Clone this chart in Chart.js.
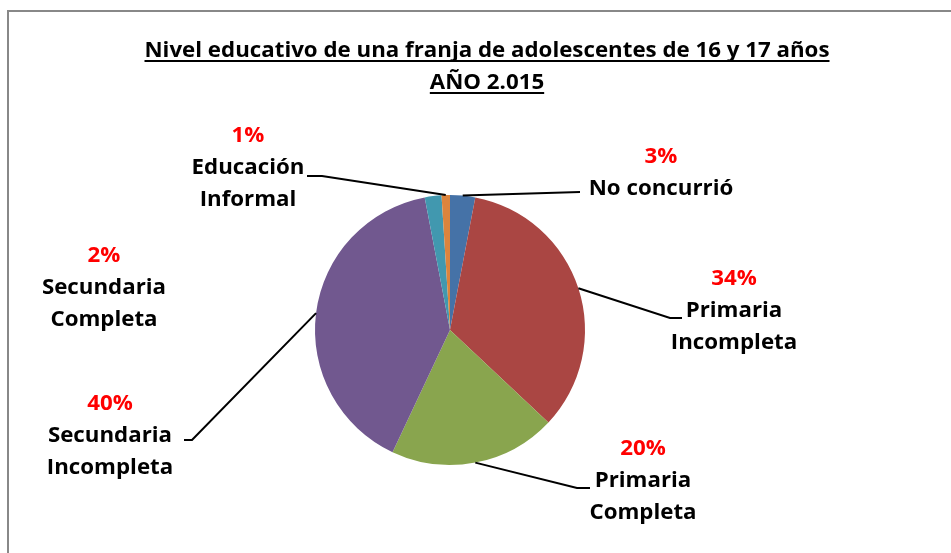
<!DOCTYPE html>
<html>
<head>
<meta charset="utf-8">
<script src="https://cdn.jsdelivr.net/npm/chart.js@4"></script>
<style>
  body { margin: 0; background: #fff; }
  canvas { display: block; }
</style>
</head>
<body>
<canvas id="grafico" width="951" height="553"></canvas>
<script>
const titulo = ['Nivel educativo de una franja de adolescentes de 16 y 17 años', 'AÑO 2.015'];
const categorias = [
  ['No concurrió'],
  ['Primaria', 'Incompleta'],
  ['Primaria', 'Completa'],
  ['Secundaria', 'Incompleta'],
  ['Secundaria', 'Completa'],
  ['Educación', 'Informal']
];
const porcentajes = [3, 34, 20, 40, 2, 1];
const colores = ['#4572A7', '#AA4643', '#89A54E', '#71588F', '#4198AF', '#DB843D'];

// where each label sits and how its leader line bends (null = no line)
const etiquetas = [
  { x: 661, y: 157, linea: [[580, 192]] },
  { x: 734, y: 279, linea: [[670, 318], [682, 318]] },
  { x: 643, y: 449, linea: [[577, 488], [590, 488]] },
  { x: 110, y: 404, linea: [[192, 440], [184, 440]] },
  { x: 104, y: 256, linea: null },
  { x: 248, y: 136, linea: [[322, 176], [307, 176]] }
];

const FUENTE = 'bold 21px "Open Sans", sans-serif';
const ANCHO_TITULO = 685;

const textosPlugin = {
  id: 'textos',
  afterDraw(chart) {
    const ctx = chart.ctx;
    ctx.save();

    // marco
    ctx.strokeStyle = '#888888';
    ctx.lineWidth = 2;
    ctx.strokeRect(8, 11, 1000, 600);

    ctx.font = FUENTE;
    ctx.textAlign = 'center';
    // estrechar el texto para parecerse a Calibri
    const esc = ANCHO_TITULO / ctx.measureText(titulo[0]).width;
    const texto = (t, x, y) => {
      ctx.save();
      ctx.translate(x, y);
      ctx.scale(esc, 1);
      ctx.fillText(t, 0, 0);
      ctx.restore();
    };

    // titulo subrayado
    ctx.fillStyle = '#000';
    ctx.textBaseline = 'alphabetic';
    titulo.forEach((t, i) => {
      const y = 57 + i * 32;
      texto(t, 487, y);
      const w = ctx.measureText(t).width * esc;
      ctx.fillRect(487 - w / 2, y + 3, w, 2);
    });

    // lineas guia
    const meta = chart.getDatasetMeta(0);
    ctx.strokeStyle = '#000';
    ctx.lineWidth = 2;
    meta.data.forEach((arc, i) => {
      const e = etiquetas[i];
      if (!e.linea) return;
      const p = arc.getProps(['x', 'y', 'startAngle', 'endAngle', 'outerRadius'], true);
      const a = (p.startAngle + p.endAngle) / 2;
      ctx.beginPath();
      ctx.moveTo(p.x + Math.cos(a) * p.outerRadius, p.y + Math.sin(a) * p.outerRadius);
      e.linea.forEach(pt => ctx.lineTo(pt[0], pt[1]));
      ctx.stroke();
    });

    // etiquetas
    ctx.textBaseline = 'middle';
    porcentajes.forEach((v, i) => {
      const e = etiquetas[i];
      ctx.fillStyle = '#FF0000';
      texto(v + '%', e.x, e.y);
      ctx.fillStyle = '#000';
      categorias[i].forEach((l, j) => texto(l, e.x, e.y + 32 * (j + 1)));
    });
    ctx.restore();
  }
};

new Chart(document.getElementById('grafico'), {
  type: 'pie',
  data: {
    labels: categorias.map(c => c.join(' ')),
    datasets: [{
      data: porcentajes,
      backgroundColor: colores,
      borderWidth: 0
    }]
  },
  options: {
    responsive: false,
    animation: false,
    layout: { padding: { left: 315, right: 366, top: 195, bottom: 88 } },
    plugins: {
      legend: { display: false },
      tooltip: { enabled: false }
    }
  },
  plugins: [textosPlugin]
});
</script>
</body>
</html>
